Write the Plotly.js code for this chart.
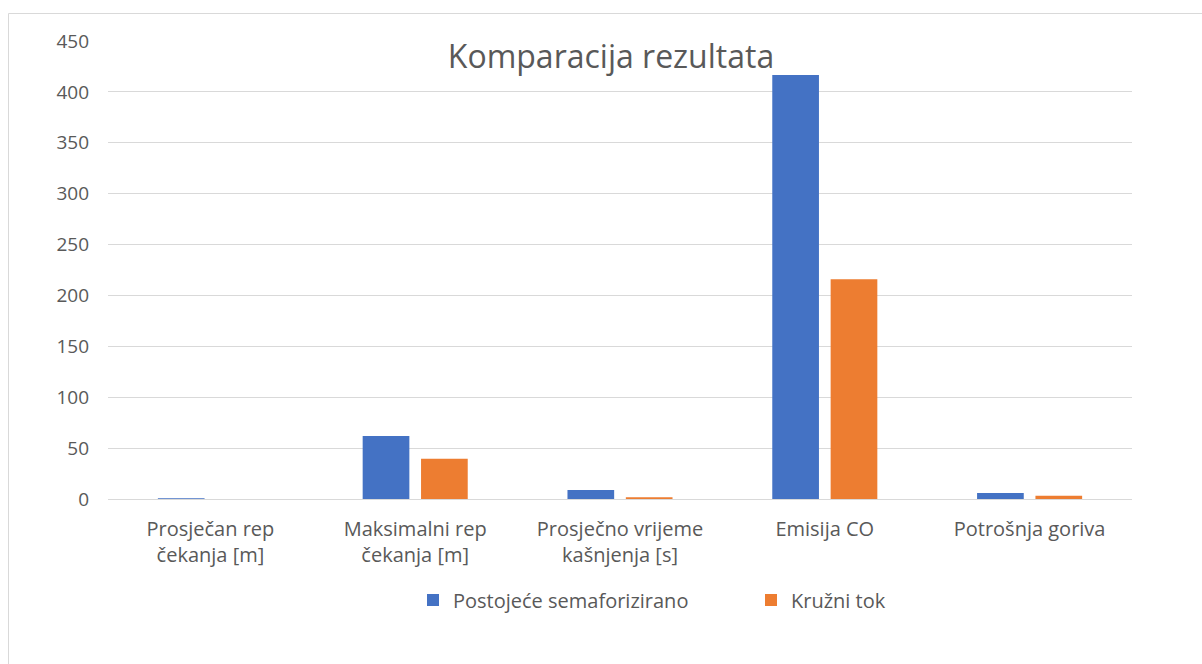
<!DOCTYPE html>
<html><head><meta charset="utf-8">
<script src="https://cdn.plot.ly/plotly-3.0.1.min.js"></script>
<style>html,body{margin:0;padding:0;background:#fff}#chart{width:1202px;height:664px}</style>
</head><body><div id="chart"></div>
<script>
const categories = ["Prosječan rep<br>čekanja [m]", "Maksimalni rep<br>čekanja [m]", "Prosječno vrijeme<br>kašnjenja [s]", "Emisija CO", "Potrošnja goriva"];
const seriesNames = ["Postojeće semaforizirano", "Kružni tok"];
const postojece = [0.8, 62, 8.8, 416.5, 5.9];
const kruzni = [0, 39.5, 1.7, 216, 3.3];
const yTicks = [0, 50, 100, 150, 200, 250, 300, 350, 400, 450];

const W = 1202, H = 664, L = 108, R = 70, T = 41, B = 165;
const pw = W - L - R, ph = H - T - B;
const px = x => (x - L) / pw;
const py = y => (H - B - y) / ph;

const font = "'Open Sans', 'Noto Sans', sans-serif";
const data = [
  {type: 'bar', name: seriesNames[0], x: categories, y: postojece, marker: {color: '#4472C4'}},
  {type: 'bar', name: seriesNames[1], x: categories, y: kruzni, marker: {color: '#ED7D31'}}
];
const layout = {
  width: W, height: H,
  margin: {l: L, r: R, t: T, b: B},
  paper_bgcolor: '#fff', plot_bgcolor: '#fff',
  font: {family: font, color: '#595959', size: 20},
  title: {text: 'Komparacija rezultata', font: {size: 32, color: '#595959', family: font},
          x: 611 / W, xanchor: 'center', y: 1 - 57 / H, yanchor: 'middle', xref: 'container', yref: 'container'},
  barmode: 'group', bargap: 0.43, bargroupgap: 0.2,
  xaxis: {tickfont: {size: 20, color: '#595959'}, showline: true, linecolor: '#D9D9D9', linewidth: 1, ticks: '', fixedrange: true, ticklabelstandoff: 12},
  yaxis: {range: [0, 450], tickvals: yTicks, ticktext: yTicks.map(String), showgrid: true, gridcolor: '#D9D9D9', gridwidth: 1,
          zeroline: false, showline: false, ticks: '', ticklabelstandoff: 18, tickfont: {size: 19, color: '#595959'}},
  legend: {orientation: 'h', x: px(413), xanchor: 'left', y: py(600), yanchor: 'middle',
           font: {size: 20, color: '#595959'}, entrywidth: 293, entrywidthmode: 'pixels', traceorder: 'normal', itemwidth: 30},
  shapes: [{type: 'rect', xref: 'paper', yref: 'paper', x0: px(8.5), x1: px(1205), y0: py(670), y1: py(13.5),
            line: {color: '#D9D9D9', width: 1}, layer: 'below'}],
  showlegend: true
};
Plotly.newPlot('chart', data, layout, {displayModeBar: false, staticPlot: true});
</script></body></html>
